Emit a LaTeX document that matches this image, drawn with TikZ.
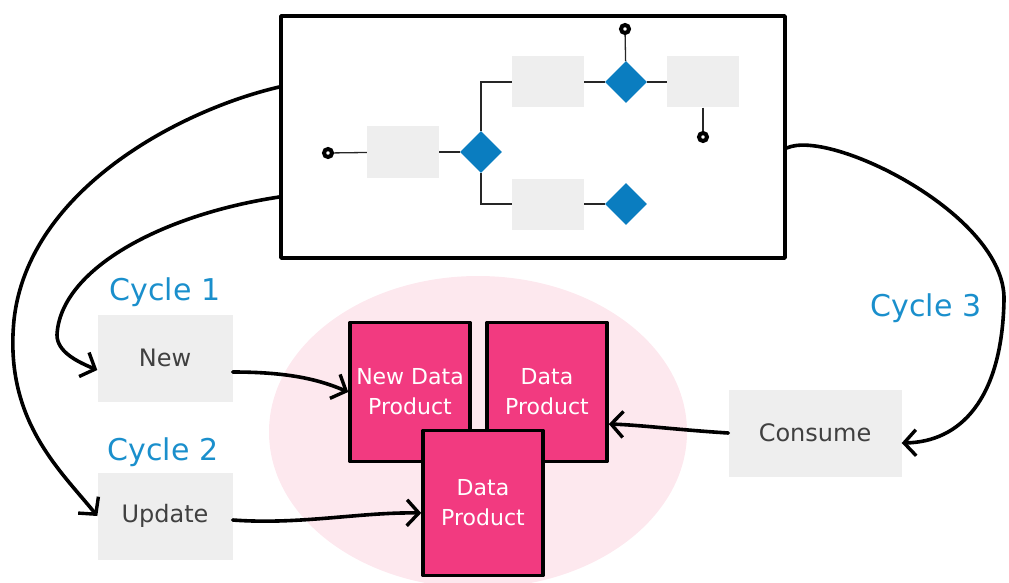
\documentclass[tikz,border=0pt]{standalone}
\usepackage{fontspec}
\setmainfont{DejaVu Sans}
\usetikzlibrary{shapes.geometric,arrows.meta}

\definecolor{cyclblue}{HTML}{1A8FCC}
\definecolor{flowblue}{HTML}{0A7DC0}
\definecolor{stepgray}{HTML}{EEEEEE}
\definecolor{prodpink}{HTML}{F23A80}
\definecolor{blush}{HTML}{FDE8EE}
\definecolor{inkgray}{HTML}{404040}

\begin{document}
\begin{tikzpicture}[x=1pt, y=-1pt,
  pen/.style={line width=3.6pt, line cap=round, line join=round},
  hand/.style={pen, -{Straight Barb[length=12pt,width=26pt,line width=3.4pt]}},
  stepbox/.style={fill=stepgray, minimum width=135, minimum height=87, inner sep=0,
    text=inkgray, font=\fontsize{24}{28}\selectfont},
  cell/.style={fill=stepgray, minimum width=72, minimum height=51, inner sep=0},
  gate/.style={diamond, fill=flowblue, minimum width=42, minimum height=42, inner sep=0},
  knob/.style={circle, draw=black, fill=white, line width=4pt, minimum size=8, inner sep=0},
  wire/.style={line width=1.3pt, black!85},
  prod/.style={pen, fill=prodpink, minimum width=120, minimum height=139, inner sep=0,
    align=center, text=white, font=\fontsize{22}{30}\selectfont},
  cyc/.style={text=cyclblue, font=\fontsize{30}{32}\selectfont}]
  \useasboundingbox (0,0) rectangle (1009,583);

  % process overview at the top
  \node[pen, draw, minimum width=504, minimum height=242, inner sep=0] (flow) at (533,137) {};
  \node[knob] (s0) at (328,153) {};
  \node[cell] (a) at (403,152) {};
  \node[gate] (d1) at (481,152) {};
  \node[cell] (b) at (548,82) {};
  \node[gate] (d2) at (626,82) {};
  \node[cell] (c) at (703,82) {};
  \node[knob] (e0) at (625,29) {};
  \node[knob] (e1) at (703,137) {};
  \node[cell] (dd) at (548,204) {};
  \node[gate] (d3) at (626,204) {};
  \draw[wire] (s0) -- (a);
  \draw[wire] (a) -- (d1);
  \draw[wire] (d1.north) |- (b.west);
  \draw[wire] (d1.south) |- (dd.west);
  \draw[wire] (b) -- (d2);
  \draw[wire] (d2) -- (c);
  \draw[wire] (d2) -- (e0);
  \draw[wire] (c) -- (e1);
  \draw[wire] (dd) -- (d3);

  % data products
  \fill[blush] (478,432) ellipse (209 and 156);
  \node[prod, draw] (ndp) at (410,392) {New Data\\Product};
  \node[prod, draw] (dpr) at (547,392) {Data\\Product};
  \node[prod, draw, minimum height=145] (dpb) at (483,503) {Data\\Product};

  % the three cycles
  \node[cyc] (cyc1) at (165,292) {Cycle 1};
  \node[cyc] (cyc2) at (163,452) {Cycle 2};
  \node[cyc] (cyc3) at (926,308) {Cycle 3};
  \node[stepbox] (new) at (165,358) {New};
  \node[stepbox] (upd) at (165,516) {Update};
  \node[stepbox, minimum width=173] (cons) at (815,433) {Consume};

  \draw[hand] ([yshift=-14pt]new.east) .. controls (290,372) and (320,380) .. (ndp.west);
  \draw[hand] ([yshift=-4pt]upd.east) .. controls (300,525) and (360,512) .. ([yshift=-10pt]dpb.west);
  \draw[hand] (cons.west) .. controls (680,430) and (640,425) .. ([yshift=-32pt]dpr.east);

  \draw[hand] ([yshift=50pt]flow.west) .. controls (180,110) and (28,190) .. (14,320)
    .. controls (4,420) and (60,470) .. (upd.west);
  \draw[hand] ([yshift=-60pt]flow.west) .. controls (160,215) and (60,270) .. (57,335)
    .. controls (57,352) and (78,362) .. ([yshift=-12pt]new.west);
  \draw[hand] ([yshift=-11pt]flow.east) .. controls (830,128) and (1006,215) .. (1004,300)
    .. controls (1002,400) and (960,442) .. ([yshift=-10pt]cons.east);
\end{tikzpicture}
\end{document}
